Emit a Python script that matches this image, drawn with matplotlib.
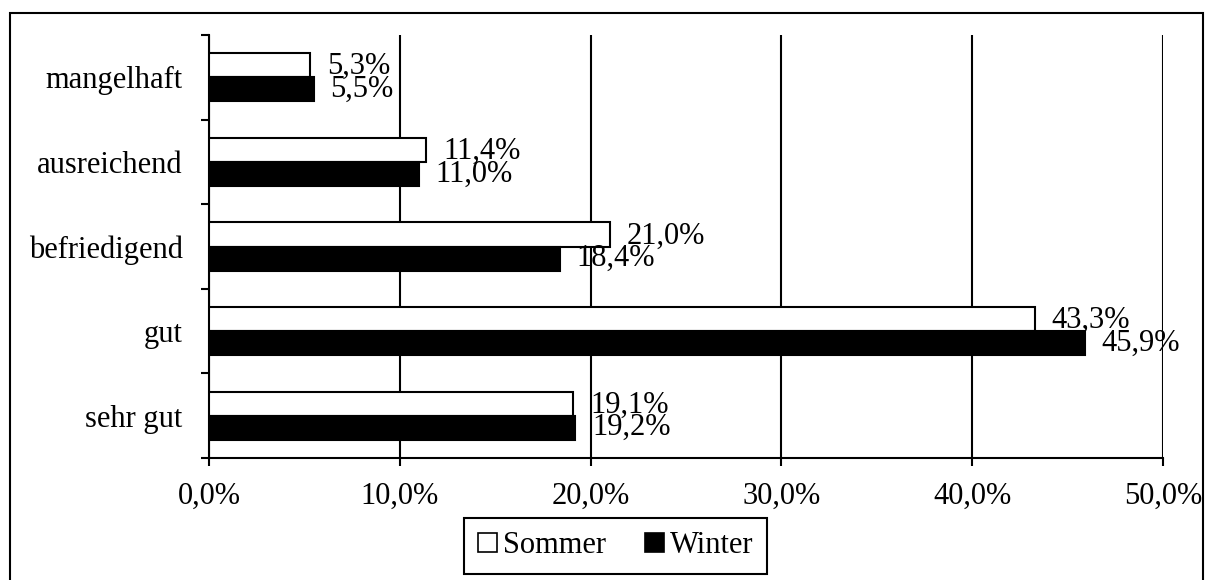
import matplotlib.pyplot as plt
from matplotlib.patches import Patch, Rectangle
from matplotlib.ticker import FixedLocator, FuncFormatter

# Data (bottom to top)
categories = ['sehr gut', 'gut', 'befriedigend', 'ausreichend', 'mangelhaft']
sommer = [19.1, 43.3, 21.0, 11.4, 5.3]
winter = [19.2, 45.9, 18.4, 11.0, 5.5]
x_ticks = [0, 10, 20, 30, 40, 50]

plt.rcParams['font.family'] = ['Liberation Serif', 'DejaVu Serif']
plt.rcParams['font.size'] = 22


def pct(v):
    return '{:.1f}%'.format(v).replace('.', ',')


def generate_plot():
    fig = plt.figure(figsize=(12.05, 5.8), dpi=100)
    ax = fig.add_axes([0.1734, 0.2103, 0.7917, 0.7293])

    h = 0.285
    ypos = list(range(len(categories)))
    ax.barh([y + h / 2 for y in ypos], sommer, height=h, color='white',
            edgecolor='black', linewidth=1.5, zorder=3)
    ax.barh([y - h / 2 for y in ypos], winter, height=h, color='black',
            edgecolor='black', linewidth=1.5, zorder=3)

    # value labels
    for y, s, w in zip(ypos, sommer, winter):
        ax.annotate(pct(s), (s, y + h / 2), xytext=(12, -1), textcoords='offset points',
                    va='center', ha='left', fontsize=22, zorder=4)
        ax.annotate(pct(w), (w, y - h / 2), xytext=(12, 0), textcoords='offset points',
                    va='center', ha='left', fontsize=22, zorder=4)

    ax.set_xlim(0, 50)
    ax.set_ylim(-0.5, len(categories) - 0.5)

    ax.xaxis.set_major_locator(FixedLocator(x_ticks))
    ax.xaxis.set_major_formatter(FuncFormatter(lambda v, p: pct(v)))
    ax.tick_params(axis='x', direction='out', length=6, width=1.5, pad=11, labelsize=22)
    ax.grid(axis='x', color='black', linewidth=1.5, zorder=1)

    # category boundaries as ticks, labels on minor ticks
    ax.set_yticks([y - 0.5 for y in range(len(categories) + 1)])
    ax.set_yticklabels([])
    ax.set_yticks(ypos, minor=True)
    ax.set_yticklabels(categories, minor=True)
    ax.tick_params(axis='y', which='major', direction='out', length=6, width=1.5)
    ax.tick_params(axis='y', which='minor', length=0, pad=19, labelsize=22)

    for side in ['top', 'right']:
        ax.spines[side].set_visible(False)
    ax.spines['left'].set_linewidth(1.5)
    ax.spines['bottom'].set_linewidth(1.5)

    handles = [Patch(facecolor='white', edgecolor='black', linewidth=1.2, label='Sommer'),
               Patch(facecolor='black', edgecolor='black', linewidth=1.2, label='Winter')]
    leg = fig.legend(handles=handles, loc='lower center', bbox_to_anchor=(0.511, -0.016),
                     ncol=2, frameon=True, fancybox=False, framealpha=1,
                     handlelength=0.6, handleheight=0.6, handletextpad=0.2,
                     columnspacing=1.3, borderpad=0.45, borderaxespad=0.5, fontsize=22)
    leg.get_frame().set_edgecolor('black')
    leg.get_frame().set_linewidth(1.5)

    # outer frame
    fig.patches.append(Rectangle((10 / 1205, -0.01), 1193 / 1205, 0.9876,
                                 transform=fig.transFigure, fill=False,
                                 edgecolor='black', linewidth=1.5))

    fig.savefig('out.png', dpi=100)


if __name__ == '__main__':
    generate_plot()
